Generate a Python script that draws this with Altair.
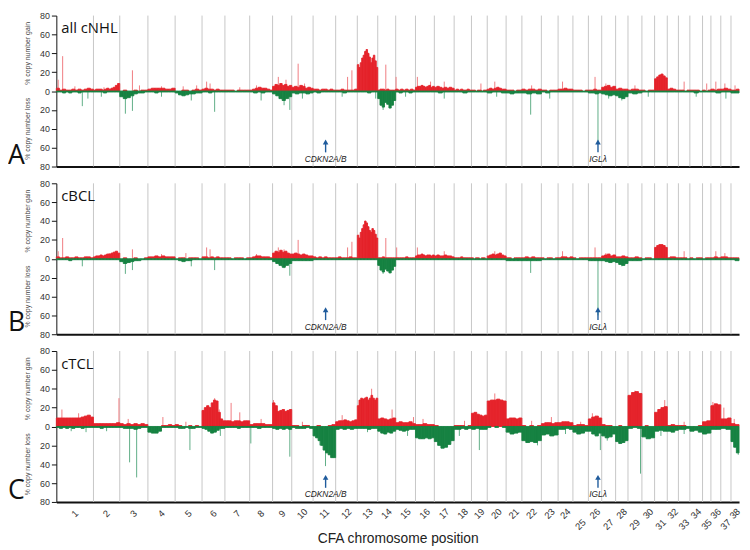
import altair as alt
import pandas as pd

# ---------------- data ----------------
CHROMS = list(range(1, 39))
CHROM_LEN = [120, 85, 91, 88, 87, 74, 80, 74, 62, 69, 73, 70, 66, 58, 64, 61, 64, 56, 51, 61,
             51, 63, 54, 48, 50, 43, 45, 40, 45, 41, 41, 36, 37, 41, 27, 32, 33, 26]
STAGGERED = [25, 27, 29, 31, 33, 35, 37]
Y_TICKS = [-80, -60, -40, -20, 0, 20, 40, 60, 80]

PANEL_TITLES = ["all cNHL", "cBCL", "cTCL"]
PANEL_LETTERS = ["A", "B", "C"]

# genes marked by arrows: (label, chromosome, position in Mb)
GENES = [("CDKN2A/B", 11, 40.5), ("IGLλ", 26, 31.0)]

# segment profiles (% of cases), one list per chromosome, each split evenly along it
A_GAIN = [
    [3, 1, 2, 1, 1, 2, 1, 2, 1, 2, 3, 2], [1, 2, 2, 2, 1, 2, 3, 2, 3, 4, 6, 8], [0, 1, 0, 0, 1, 0, 1, 1],
    [2, 3, 3, 3, 3, 2, 2, 3], [0, 0, 1, 1, 0, 1, 2, 1], [2, 3, 2, 2, 1, 2, 1, 1], [1, 1, 1, 0, 1, 1, 1, 1],
    [1, 2, 3, 4, 3, 3, 2, 1], [5, 7, 6, 8, 6, 7, 5, 6], [4, 5, 4, 6, 5, 3, 4, 3], [2, 2, 1, 2, 2, 1, 2, 1],
    [1, 1, 2, 1, 1, 1, 1, 2], [28, 25, 30, 35, 38, 42, 44, 40, 36, 30, 35, 38, 32, 25],
    [1, 2, 2, 1, 2, 1, 1, 1], [2, 1, 2, 1, 2, 1, 2, 1], [4, 5, 5, 6, 5, 4, 5, 6, 4, 5],
    [4, 5, 4, 3, 4, 3, 4, 3], [1, 2, 1, 2, 1, 1, 2, 1], [1, 1, 0, 1, 1, 0, 1, 1], [2, 3, 2, 3, 4, 3, 2, 2],
    [1, 1, 1, 0, 1, 1], [2, 1, 2, 2, 1, 2], [1, 1, 0, 1, 1, 1], [2, 2, 3, 2, 2], [1, 1, 1, 0, 1],
    [1, 1, 2, 1, 1], [4, 5, 6, 4, 5], [2, 3, 2, 2], [1, 2, 2, 1], [1, 0, 1, 1], [13, 15, 17, 18, 16, 14],
    [2, 3, 2, 1], [1, 1, 0, 1], [1, 1, 1, 0], [1, 0, 1], [2, 1, 2], [2, 3, 2], [1, 1, 2],
]
A_LOSS = [
    [1, 1, 2, 1, 2, 1, 1, 2, 1, 1, 1, 1], [1, 1, 1, 2, 1, 1, 1, 1], [6, 8, 7, 5, 3, 2, 2, 1],
    [1, 1, 2, 1, 1, 1, 1, 1], [2, 4, 5, 4, 3, 3, 2, 2], [1, 1, 2, 1, 1, 1, 1], [1, 1, 1, 1, 1, 1, 1],
    [1, 2, 1, 2, 1, 1], [3, 5, 8, 10, 8, 6], [2, 3, 2, 2, 3, 2], [1, 2, 1, 1, 1, 1], [1, 1, 2, 1, 1, 1],
    [1, 1, 1, 2, 1, 1], [8, 15, 17, 12, 14, 18, 15, 10], [1, 2, 1, 1, 2, 1], [1, 1, 1, 1, 1],
    [1, 2, 1, 1, 1], [1, 1, 2, 1], [1, 1, 1, 1], [2, 1, 1, 2], [2, 3, 2, 2], [2, 3, 2, 3], [1, 2, 1, 1],
    [1, 1, 1], [1, 1, 1], [2, 2, 3, 2], [3, 4, 5, 4], [5, 7, 8, 6], [2, 3, 2], [1, 1, 1], [1, 1, 1],
    [1, 1, 1], [1, 1, 1], [1, 2, 1], [1, 1], [1, 2], [1, 1], [2, 2],
]
B_GAIN = [
    [2, 1, 1, 2, 1, 1, 2, 1, 1, 2, 2, 1], [2, 3, 3, 4, 3, 4, 5, 5, 6, 7, 8, 6], [0, 1, 0, 0, 1, 0, 0, 1],
    [2, 2, 3, 2, 3, 2, 2, 2], [0, 1, 1, 0, 1, 1, 1, 0], [2, 2, 1, 2, 1, 2, 1, 1], [1, 1, 0, 1, 1, 1, 0, 1],
    [1, 2, 3, 3, 2, 2, 2, 1], [6, 8, 7, 9, 7, 8, 6, 5], [5, 6, 5, 4, 5, 4, 3, 3], [2, 1, 2, 1, 2, 1, 1, 1],
    [1, 2, 1, 1, 1, 2, 1, 1], [25, 22, 28, 32, 36, 40, 38, 34, 30, 28, 32, 30, 26, 22],
    [1, 1, 2, 1, 1, 1, 1, 1], [1, 1, 1, 1, 2, 1, 1, 1], [3, 4, 4, 5, 4, 3, 4, 4, 3, 4],
    [3, 4, 3, 3, 4, 3, 3, 2], [1, 1, 1, 2, 1, 1, 1, 1], [1, 0, 1, 1, 0, 1, 1, 0], [3, 4, 5, 4, 5, 6, 4, 3],
    [1, 1, 0, 1, 1, 1], [1, 2, 1, 2, 1, 1], [1, 0, 1, 1, 0, 1], [1, 2, 2, 1, 2], [1, 0, 1, 1, 1],
    [1, 1, 1, 1, 1], [3, 4, 5, 3, 4], [2, 2, 3, 2], [1, 1, 2, 1], [0, 1, 1, 0], [12, 14, 15, 15, 14, 12],
    [1, 2, 2, 1], [1, 1, 1, 0], [1, 0, 1, 1], [0, 1, 1], [1, 2, 1], [2, 2, 1], [1, 1, 1],
]
B_LOSS = [
    [1, 1, 1, 1, 2, 1, 1, 1, 1, 1, 1, 1], [1, 1, 1, 1, 1, 1, 1, 1], [3, 5, 4, 3, 2, 2, 1, 1],
    [1, 1, 1, 1, 1, 1, 1, 1], [1, 2, 3, 2, 2, 1, 1, 1], [1, 1, 1, 1, 1, 1, 1], [1, 1, 1, 1, 1, 1, 1],
    [1, 1, 1, 1, 1, 1], [3, 5, 7, 9, 7, 5], [2, 2, 2, 2, 2, 2], [1, 1, 1, 1, 1, 1], [1, 1, 1, 1, 1, 1],
    [1, 1, 1, 1, 1, 1], [7, 12, 14, 11, 13, 15, 12, 8], [1, 1, 1, 1, 1, 1], [1, 1, 1, 1, 1],
    [1, 1, 1, 1, 1], [1, 1, 1, 1], [1, 1, 1, 1], [1, 1, 1, 1], [2, 2, 2, 2], [2, 2, 2, 2], [1, 1, 1, 1],
    [1, 1, 1], [1, 1, 1], [2, 2, 2, 2], [2, 3, 4, 3], [4, 6, 7, 5], [2, 2, 2], [1, 1, 1], [1, 1, 1],
    [1, 1, 1], [1, 1, 1], [1, 1, 1], [1, 1], [1, 1], [1, 1], [1, 2],
]
C_GAIN = [
    [9, 9, 9, 9, 9, 9, 9, 9, 10, 11, 12, 10], [3, 3, 3, 3, 3, 3, 3, 4], [3, 2, 3, 2, 3, 2, 3, 2],
    [0, 0, 0, 0, 1, 1, 2, 1], [2, 1, 0, 0, 1, 0, 1, 0], [17, 20, 22, 20, 25, 28, 27, 15, 8, 6],
    [6, 6, 5, 6, 6, 5, 6, 6], [2, 3, 3, 3, 2, 2], [25, 22, 16, 17, 18, 16, 17, 18], [1, 1, 0, 1, 1, 0],
    [0, 1, 0, 0, 1, 2], [5, 6, 6, 7, 6, 5, 6, 7], [22, 28, 30, 29, 30, 31, 28, 30, 33, 30, 28, 30],
    [8, 9, 8, 7, 8, 9], [4, 5, 4, 4, 5, 3], [2, 2, 3, 2, 2], [1, 0, 0, 0, 0], [1, 1, 1, 0, 1],
    [14, 15, 13, 12, 11, 12], [27, 28, 28, 29, 28, 27], [8, 9, 9, 8, 9], [1, 0, 1, 0, 1],
    [3, 4, 4, 3, 4], [4, 5, 5, 4], [1, 2, 2, 1], [8, 10, 11, 9], [2, 1, 1, 0], [0, 1, 0, 0],
    [33, 36, 37, 35], [0, 1, 0, 0], [15, 18, 20, 21], [1, 2, 1], [1, 1, 0], [0, 0, 1], [5, 6],
    [22, 24, 23], [8, 8, 9], [3, 2],
]
C_LOSS = [
    [1, 2, 1, 2, 1, 2, 1, 1, 2, 1, 1, 1], [1, 1, 2, 1, 1, 1, 1, 1], [1, 2, 2, 2, 3, 2, 1, 1],
    [6, 7, 7, 5, 1, 1, 1, 1], [1, 2, 2, 1, 2, 2, 1, 1], [2, 3, 5, 7, 6, 4, 2, 2], [1, 1, 1, 1, 2, 1, 1, 1],
    [1, 1, 2, 1, 1, 1], [2, 3, 2, 3, 2, 3], [1, 2, 2, 2, 1, 2], [10, 12, 15, 20, 25, 28, 30, 33, 33],
    [3, 2, 3, 2, 3, 2], [2, 2, 2, 3, 2, 2], [5, 7, 8, 6, 7, 5], [3, 4, 5, 4, 3, 3], [12, 13, 13, 12, 13, 12],
    [16, 20, 23, 22, 19, 15], [3, 3, 2, 3, 2], [3, 2, 3, 3], [1, 0, 1, 0, 1], [6, 8, 7, 6],
    [15, 17, 16, 17, 15], [9, 8, 10, 9], [3, 3, 2, 3], [6, 8, 7, 5], [5, 8, 10, 7], [10, 12, 11, 8],
    [16, 18, 17, 15], [2, 1, 2], [11, 13, 12], [5, 4, 5], [5, 6, 4], [3, 3, 2], [5, 4, 6], [8, 7],
    [3, 3], [2, 3], [16, 22, 28],
]

# narrow single-probe peaks: (chromosome, fraction along chromosome, %)
A_GAIN_SPIKES = [(1, .05, 12), (1, .17, 37), (1, .5, 5), (2, .4, 4), (3, .45, 22), (3, .7, 6), (4, .5, 5),
                 (5, .3, 5), (5, .8, 6), (6, .2, 10), (6, .35, 8), (7, .6, 4), (8, .3, 6), (9, .3, 15),
                 (9, .7, 12), (10, .3, 29), (10, .6, 8), (12, .55, 15), (12, .75, 22), (14, .45, 28),
                 (15, .02, 15), (16, .1, 15), (16, .8, 10), (17, .5, 10), (19, .6, 8), (20, .4, 10),
                 (22, .5, 6), (24, .3, 10), (26, .5, 15), (27, .3, 8), (29, .5, 6), (33, .5, 10),
                 (35, .5, 8), (36, .5, 10), (37, .4, 8), (38, .5, 6)]
A_LOSS_SPIKES = [(1, .7, 16), (1, .85, 8), (2, .3, 6), (3, .2, 24), (3, .45, 21), (4, .5, 6), (5, .6, 10),
                 (6, .55, 22), (8, .5, 10), (9, .6, 15), (9, .9, 20), (10, .5, 8), (12, .3, 6), (13, .9, 8),
                 (14, .3, 20), (15, .5, 6), (17, .5, 8), (20, .5, 6), (22, .45, 25), (23, .5, 8),
                 (26, .72, 53), (27, .5, 8), (28, .5, 10), (30, .5, 6), (34, .5, 6), (37, .5, 8)]
B_GAIN_SPIKES = [(1, .17, 22), (1, .05, 8), (2, .6, 6), (3, .45, 10), (4, .5, 5), (5, .4, 6), (6, .2, 12),
                 (6, .35, 10), (8, .3, 5), (9, .3, 12), (9, .6, 10), (10, .3, 20), (12, .55, 12),
                 (12, .75, 18), (14, .45, 22), (15, .05, 12), (16, .1, 12), (17, .5, 8), (20, .4, 8),
                 (24, .3, 8), (26, .5, 12), (27, .3, 6), (33, .5, 8), (36, .5, 8), (37, .4, 6)]
B_LOSS_SPIKES = [(1, .7, 8), (3, .2, 16), (3, .45, 12), (5, .6, 8), (6, .55, 12), (9, .6, 10), (9, .9, 18),
                 (14, .3, 16), (22, .45, 15), (26, .72, 60), (28, .5, 8)]
C_GAIN_SPIKES = [(1, .15, 18), (1, .6, 14), (2, .97, 30), (3, .3, 8), (4, .55, 10), (5, .4, 5), (6, .55, 30),
                 (6, .75, 18), (7, .25, 25), (7, .6, 15), (8, .5, 8), (9, .05, 28), (10, .5, 5), (12, .3, 12),
                 (13, .7, 40), (14, .8, 18), (15, .9, 10), (16, .4, 8), (18, .6, 6), (20, .4, 35), (22, .5, 6),
                 (23, .6, 10), (25, .5, 5), (26, .3, 14), (29, .5, 38), (31, .8, 28), (33, .5, 5),
                 (36, .2, 26), (37, .3, 20), (38, .4, 8)]
C_LOSS_SPIKES = [(1, .4, 5), (1, .8, 6), (2, .5, 5), (3, .35, 38), (3, .6, 54), (5, .55, 25), (6, .8, 10),
                 (8, .05, 18), (9, .9, 32), (11, .55, 42), (11, .3, 20), (13, .5, 6), (15, .6, 10),
                 (18, .3, 10), (19, .5, 25), (22, .8, 20), (24, .5, 8), (26, .9, 25), (27, .4, 15),
                 (29, .9, 50), (31, .5, 10), (33, .5, 8), (38, .9, 30)]

PANELS = [
    (A_GAIN, A_LOSS, A_GAIN_SPIKES, A_LOSS_SPIKES),
    (B_GAIN, B_LOSS, B_GAIN_SPIKES, B_LOSS_SPIKES),
    (C_GAIN, C_LOSS, C_GAIN_SPIKES, C_LOSS_SPIKES),
]

# ---------------- derived tables ----------------
STARTS = []
acc = 0
for L in CHROM_LEN:
    STARTS.append(acc)
    acc += L
TOTAL = acc

bounds_df = pd.DataFrame({"pos": STARTS[1:], "lo": -80, "hi": 80})
labels_df = pd.DataFrame({
    "mid": [s + L / 2 for s, L in zip(STARTS, CHROM_LEN)],
    "lab": [str(c) for c in CHROMS],
    "stag": [c in STAGGERED for c in CHROMS],
})
genes_df = pd.DataFrame({
    "x": [STARTS[c - 1] + p for _, c, p in GENES],
    "name": [g for g, _, _ in GENES],
    "a0": -65, "a1": -54, "ty": -72,
})


def segments(prof, sign):
    rows = []
    for c, L, st in zip(CHROMS, CHROM_LEN, STARTS):
        vals = prof[c - 1]
        n = len(vals)
        for i, v in enumerate(vals):
            if v > 0:
                rows.append({"x": st + L * i / n, "x2": st + L * (i + 1) / n, "y0": 0, "y": sign * v})
    return pd.DataFrame(rows)


def spikes(sp, sign):
    return pd.DataFrame([{"x": STARTS[c - 1] + CHROM_LEN[c - 1] * f, "y0": 0, "y": sign * v}
                         for c, f, v in sp])


W, H = 692, 153
XS = alt.Scale(domain=[0, TOTAL], nice=False, zero=False)
YS = alt.Scale(domain=[-80, 80], nice=False)
FONT = "Liberation Sans"
RED, GREEN = "#e5232b", "#168242"


def panel(idx):
    gain, loss, gsp, lsp = PANELS[idx]
    last = idx == 2
    xaxis = alt.Axis(labels=False, ticks=False, grid=False, domainColor="#111", domainWidth=2,
                     title="CFA chromosome position" if last else None, titlePadding=30,
                     titleFontSize=14, titleFontWeight="normal", titleFont=FONT, titleColor="#222")
    yaxis = alt.Axis(values=Y_TICKS, labelExpr="abs(datum.value)",
                     title=None, grid=False, tickSize=5, labelFontSize=9, labelFont=FONT,
                     labelColor="#333", labelOverlap=False, labelFlush=False,
                     domainColor="#111", tickColor="#111", labelPadding=2)

    def X(field):
        return alt.X(field, scale=XS, axis=xaxis)

    def Y(field):
        return alt.Y(field, scale=YS, axis=yaxis)

    lines = alt.Chart(bounds_df).mark_rule(color="#c6c6c6", strokeWidth=1).encode(
        x=X("pos:Q"), y=Y("lo:Q"), y2="hi:Q")
    gs = alt.Chart(spikes(gsp, 1)).mark_rule(color="#f07c80", strokeWidth=1).encode(
        x=X("x:Q"), y=Y("y0:Q"), y2="y:Q")
    ls = alt.Chart(spikes(lsp, -1)).mark_rule(color="#5fae86", strokeWidth=1).encode(
        x=X("x:Q"), y=Y("y0:Q"), y2="y:Q")
    gb = alt.Chart(segments(gain, 1)).mark_rect(fill=RED, stroke=RED, strokeWidth=0.9).encode(
        x=X("x:Q"), x2="x2:Q", y=Y("y0:Q"), y2="y:Q")
    lb = alt.Chart(segments(loss, -1)).mark_rect(fill=GREEN, stroke=GREEN, strokeWidth=0.9).encode(
        x=X("x:Q"), x2="x2:Q", y=Y("y0:Q"), y2="y:Q")

    arrows = alt.Chart(genes_df).mark_rule(color="#1f5b9c", strokeWidth=1.4).encode(
        x=X("x:Q"), y=Y("a0:Q"), y2="a1:Q")
    heads = alt.Chart(genes_df).mark_point(shape="triangle-up", filled=True, color="#1f5b9c",
                                            size=32, opacity=1).encode(
        x=X("x:Q"), y=Y("a1:Q"))
    gtext = alt.Chart(genes_df).mark_text(fontSize=8.5, fontStyle="italic", font=FONT,
                                          color="#222").encode(
        x=X("x:Q"), y=Y("ty:Q"), text="name:N")

    ttl = alt.Chart(pd.DataFrame({"t": [PANEL_TITLES[idx]]})).mark_text(
        fontSize=15, font="Open Sans", align="left", baseline="middle", color="#111").encode(
        x=alt.value(5), y=alt.value(13), text="t:N")
    let = alt.Chart(pd.DataFrame({"t": [PANEL_LETTERS[idx]]})).mark_text(
        fontSize=27, font="Open Sans", align="left", baseline="alphabetic", color="#111").encode(
        x=alt.value(-49), y=alt.value(H - 3), text="t:N")
    ytit = alt.Chart(pd.DataFrame({"t": ["% copy number gain", "% copy number loss"],
                                   "v": [40, -40]})).mark_text(
        fontSize=7, font=FONT, angle=270, color="#444", baseline="middle").encode(
        x=alt.value(-29), y=Y("v:Q"), text="t:N")

    layers = [lines, gs, ls, gb, lb, arrows, heads, gtext, ttl, let, ytit]
    if last:
        lab1 = alt.Chart(labels_df[~labels_df["stag"]]).mark_text(
            fontSize=9.5, font=FONT, angle=315, color="#333").encode(
            x=X("mid:Q"), y=alt.value(H + 12), text="lab:N")
        lab2 = alt.Chart(labels_df[labels_df["stag"]]).mark_text(
            fontSize=9.5, font=FONT, angle=315, color="#333").encode(
            x=X("mid:Q"), y=alt.value(H + 23), text="lab:N")
        layers += [lab1, lab2]
    return alt.layer(*layers).properties(width=W, height=H)


chart = alt.vconcat(panel(0), panel(1), panel(2), spacing=8).properties(
    padding={"left": 0, "top": 0, "right": 0, "bottom": 0}
).configure_view(stroke=None)

chart.save("out.html", embed_options={"renderer": "svg", "actions": False})
